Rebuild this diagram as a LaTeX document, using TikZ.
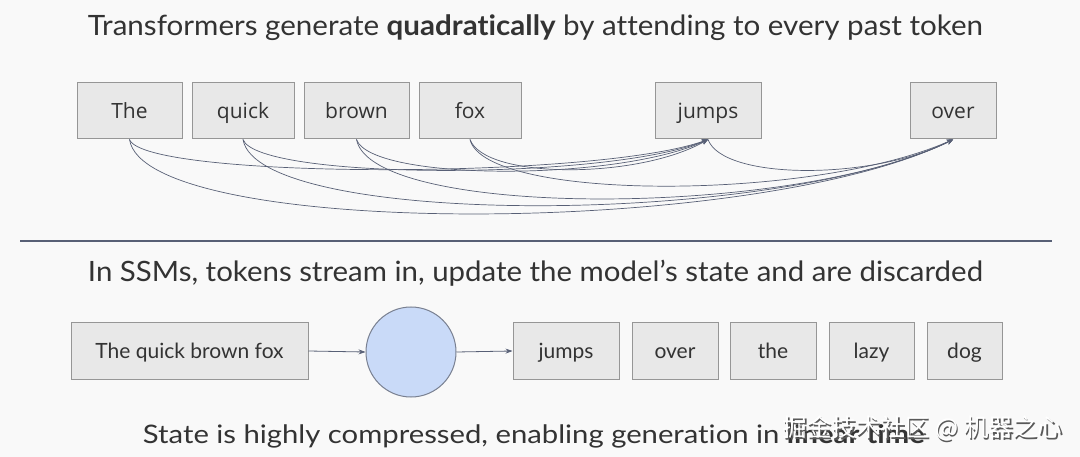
\documentclass[tikz,border=0pt]{standalone}
\usepackage{fontspec}
\setmainfont{Lato}[Ligatures=NoCommon]
\newfontfamily\tokfont{Open Sans}
\newfontfamily\cjkfont{Noto Sans CJK SC}
\usepackage{graphicx}
\usepackage{xcolor}
\usepackage{tikz}
\usetikzlibrary{arrows.meta}
\definecolor{FondoPag}{RGB}{249,249,249}
\definecolor{CajaGris}{RGB}{232,232,232}
\definecolor{BordeGris}{RGB}{150,150,150}
\definecolor{LineaAzul}{RGB}{88,96,118}
\definecolor{EstadoAzul}{RGB}{201,218,248}
\definecolor{TextoGris}{RGB}{51,51,51}

\begin{document}
\begin{tikzpicture}[x=1pt,y=-1pt,>=Stealth,
    token/.style={draw=BordeGris,fill=CajaGris,line width=1pt,minimum height=56pt,inner sep=0pt,
      text height=15pt,text depth=0pt,text=TextoGris},
    attn/.style={-{Stealth[length=6pt,width=5pt]},draw=LineaAzul,line width=0.7pt},
    flow/.style={-{Stealth[length=7pt,width=5pt]},draw=LineaAzul,line width=0.8pt}]
  \fill[FondoPag] (0,0) rectangle (1080,457);
  \useasboundingbox (0,0) rectangle (1080,457);

  % Atencion cuadratica
  \node[anchor=base,text=TextoGris,inner sep=0pt] (tit1) at (535.5,36)
    {\resizebox{895pt}{\height}{\fontsize{28}{32}\selectfont Transformers generate \textbf{quadratically} by attending to every past token}};
  \begin{scope}[every node/.append style={font=\tokfont\fontsize{21}{25}\selectfont}]
    \node[token,minimum width=105pt] (tThe)   at (129.5,111) {The};
    \node[token,minimum width=102pt] (tQuick) at (243,111)   {quick};
    \node[token,minimum width=105pt] (tBrown) at (356.5,111) {brown};
    \node[token,minimum width=102pt] (tFox)   at (470,111)   {fox};
    \node[token,minimum width=106pt] (tJumps) at (708,111)   {jumps};
    \node[token,minimum width=86pt]  (tOver)  at (953,111)   {over};
  \end{scope}
  \foreach \src/\dst/\h/\w in {tThe/tJumps/40/110, tQuick/tJumps/41/100, tBrown/tJumps/42/90, tFox/tJumps/40/70,
      tThe/tOver/99/200, tQuick/tOver/88/180, tBrown/tOver/79/160, tFox/tOver/62/140, tJumps/tOver/41/80}
    \draw[attn] (\src.south) .. controls +(15,\h) and +(-\w,\h) .. (\dst.south);

  \draw[LineaAzul,line width=1.4pt] (20,241) -- (1052,241);

  % Modelo de espacio de estados
  \node[anchor=base,text=TextoGris,inner sep=0pt] (tit2) at (535.5,282)
    {\resizebox{895pt}{\height}{\fontsize{28}{32}\selectfont In SSMs, tokens stream in, update the model’s state and are discarded}};
  \begin{scope}[every node/.append style={font=\fontsize{21}{25}\selectfont}]
    \node[token,minimum width=237pt] (sFox)   at (189.5,351) {The quick brown fox};
    \node[token,minimum width=106pt] (sJumps) at (566,351)   {jumps};
    \node[token,minimum width=86pt]  (sOver)  at (675,351)   {over};
    \node[token,minimum width=86pt]  (sThe)   at (773,351)   {the};
    \node[token,minimum width=85pt]  (sLazy)  at (871.5,351) {lazy};
    \node[token,minimum width=75pt]  (sDog)   at (964.5,351) {dog};
  \end{scope}
  \node[circle,draw=LineaAzul!80,fill=EstadoAzul,line width=1pt,minimum size=90pt,inner sep=0pt] (state) at (411,352) {};
  \draw[flow] (sFox.east) -- (state.west);
  \draw[flow] (state.east) -- (sJumps.west);

  \node[anchor=base,text=TextoGris,inner sep=0pt] (tit3) at (534,443)
    {\resizebox{782pt}{\height}{\fontsize{25.5}{30}\selectfont State is highly compressed, enabling generation in \textbf{linear time}}};

  % Marca de agua
  \node[text=black!65,inner sep=0pt] (marcaS) at (924,430) {\cjkfont\fontsize{24.5}{28}\selectfont 掘金技术社区 @ 机器之心};
  \node[text=white,inner sep=0pt] (marca) at (922.5,428.5) {\cjkfont\fontsize{24.5}{28}\selectfont 掘金技术社区 @ 机器之心};
\end{tikzpicture}
\end{document}
